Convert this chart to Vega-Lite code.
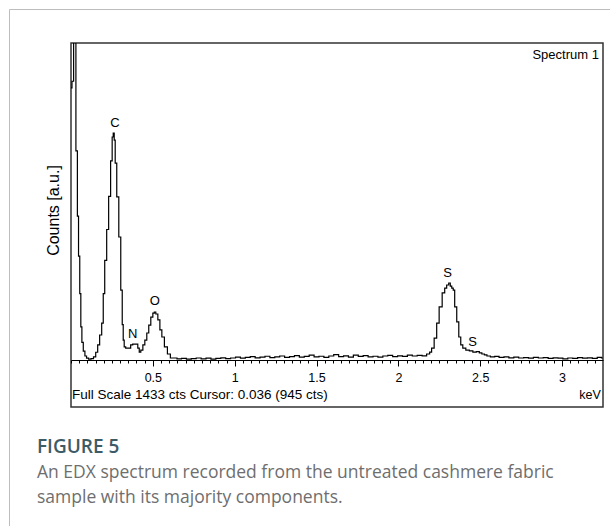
{
  "$schema": "https://vega.github.io/schema/vega-lite/v6.json",
  "width": 532,
  "height": 364,
  "autosize": {"type": "none"},
  "padding": {"left": 71, "top": 43, "right": 7, "bottom": 119},
  "background": "white",
  "config": {"view": {"stroke": "#333", "strokeWidth": 1.5}, "font": "Liberation Sans"},
  "title": {
    "text": "FIGURE 5",
    "subtitle": ["An EDX spectrum recorded from the untreated cashmere fabric", "sample with its majority components."],
    "orient": "bottom", "anchor": "start", "frame": "group", "dx": -34, "offset": -173,
    "font": "Open Sans", "fontSize": 19, "fontWeight": 600, "color": "#3d5b66",
    "subtitleFont": "Open Sans", "subtitleFontSize": 17.5, "subtitleColor": "#6e6e6e",
    "subtitleLineHeight": 25, "subtitlePadding": 7
  },
  "resolve": {"axis": {"x": "independent"}},
  "datasets": {
    "spectrum": [
      {"kev": 0.000, "cts": 1230}, {"kev": 0.012, "cts": 1260}, {"kev": 0.020, "cts": 1600}, {"kev": 0.024, "cts": 2000},
      {"kev": 0.029, "cts": 2000}, {"kev": 0.031, "cts": 945}, {"kev": 0.036, "cts": 945}, {"kev": 0.042, "cts": 650},
      {"kev": 0.050, "cts": 470}, {"kev": 0.057, "cts": 300}, {"kev": 0.063, "cts": 150}, {"kev": 0.070, "cts": 80},
      {"kev": 0.080, "cts": 40}, {"kev": 0.090, "cts": 18}, {"kev": 0.100, "cts": 8}, {"kev": 0.115, "cts": 4},
      {"kev": 0.130, "cts": 6}, {"kev": 0.145, "cts": 14}, {"kev": 0.157, "cts": 35}, {"kev": 0.169, "cts": 68},
      {"kev": 0.181, "cts": 113}, {"kev": 0.194, "cts": 167}, {"kev": 0.200, "cts": 300}, {"kev": 0.212, "cts": 450},
      {"kev": 0.224, "cts": 590}, {"kev": 0.236, "cts": 740}, {"kev": 0.248, "cts": 900}, {"kev": 0.255, "cts": 1008},
      {"kev": 0.261, "cts": 1026}, {"kev": 0.267, "cts": 994}, {"kev": 0.273, "cts": 890}, {"kev": 0.286, "cts": 737},
      {"kev": 0.298, "cts": 556}, {"kev": 0.310, "cts": 316}, {"kev": 0.316, "cts": 160}, {"kev": 0.322, "cts": 90},
      {"kev": 0.328, "cts": 59}, {"kev": 0.340, "cts": 54}, {"kev": 0.358, "cts": 54}, {"kev": 0.371, "cts": 68},
      {"kev": 0.383, "cts": 72}, {"kev": 0.402, "cts": 72}, {"kev": 0.414, "cts": 54}, {"kev": 0.420, "cts": 36},
      {"kev": 0.433, "cts": 45}, {"kev": 0.445, "cts": 68}, {"kev": 0.457, "cts": 90}, {"kev": 0.469, "cts": 122},
      {"kev": 0.481, "cts": 158}, {"kev": 0.494, "cts": 194}, {"kev": 0.506, "cts": 212}, {"kev": 0.512, "cts": 217},
      {"kev": 0.524, "cts": 208}, {"kev": 0.537, "cts": 181}, {"kev": 0.549, "cts": 136}, {"kev": 0.561, "cts": 104},
      {"kev": 0.580, "cts": 59}, {"kev": 0.598, "cts": 27}, {"kev": 0.616, "cts": 9}, {"kev": 0.635, "cts": 9},
      {"kev": 0.66, "cts": 5}, {"kev": 0.69, "cts": 7}, {"kev": 0.72, "cts": 4}, {"kev": 0.75, "cts": 6},
      {"kev": 0.78, "cts": 9}, {"kev": 0.81, "cts": 5}, {"kev": 0.84, "cts": 8}, {"kev": 0.87, "cts": 4},
      {"kev": 0.90, "cts": 7}, {"kev": 0.93, "cts": 10}, {"kev": 0.96, "cts": 6}, {"kev": 0.99, "cts": 9},
      {"kev": 1.02, "cts": 13}, {"kev": 1.05, "cts": 8}, {"kev": 1.08, "cts": 12}, {"kev": 1.11, "cts": 15},
      {"kev": 1.14, "cts": 10}, {"kev": 1.17, "cts": 13}, {"kev": 1.20, "cts": 17}, {"kev": 1.23, "cts": 11},
      {"kev": 1.26, "cts": 14}, {"kev": 1.29, "cts": 18}, {"kev": 1.32, "cts": 12}, {"kev": 1.35, "cts": 15},
      {"kev": 1.38, "cts": 20}, {"kev": 1.41, "cts": 13}, {"kev": 1.44, "cts": 16}, {"kev": 1.47, "cts": 22},
      {"kev": 1.50, "cts": 14}, {"kev": 1.53, "cts": 17}, {"kev": 1.56, "cts": 12}, {"kev": 1.59, "cts": 18},
      {"kev": 1.62, "cts": 24}, {"kev": 1.65, "cts": 15}, {"kev": 1.68, "cts": 19}, {"kev": 1.71, "cts": 13},
      {"kev": 1.74, "cts": 22}, {"kev": 1.77, "cts": 16}, {"kev": 1.80, "cts": 20}, {"kev": 1.83, "cts": 14},
      {"kev": 1.86, "cts": 17}, {"kev": 1.89, "cts": 13}, {"kev": 1.92, "cts": 18}, {"kev": 1.95, "cts": 21},
      {"kev": 1.98, "cts": 15}, {"kev": 2.01, "cts": 19}, {"kev": 2.04, "cts": 16}, {"kev": 2.07, "cts": 22},
      {"kev": 2.10, "cts": 18}, {"kev": 2.13, "cts": 21}, {"kev": 2.16, "cts": 19}, {"kev": 2.185, "cts": 27},
      {"kev": 2.197, "cts": 36}, {"kev": 2.209, "cts": 54}, {"kev": 2.228, "cts": 99}, {"kev": 2.240, "cts": 167},
      {"kev": 2.258, "cts": 240}, {"kev": 2.277, "cts": 303}, {"kev": 2.289, "cts": 325}, {"kev": 2.301, "cts": 339},
      {"kev": 2.314, "cts": 348}, {"kev": 2.320, "cts": 334}, {"kev": 2.332, "cts": 325}, {"kev": 2.338, "cts": 316},
      {"kev": 2.350, "cts": 240}, {"kev": 2.363, "cts": 172}, {"kev": 2.375, "cts": 104}, {"kev": 2.387, "cts": 68},
      {"kev": 2.400, "cts": 54}, {"kev": 2.424, "cts": 45}, {"kev": 2.443, "cts": 41}, {"kev": 2.467, "cts": 36},
      {"kev": 2.485, "cts": 38}, {"kev": 2.504, "cts": 32}, {"kev": 2.516, "cts": 27}, {"kev": 2.535, "cts": 23},
      {"kev": 2.547, "cts": 18}, {"kev": 2.577, "cts": 14}, {"kev": 2.60, "cts": 16}, {"kev": 2.63, "cts": 12},
      {"kev": 2.66, "cts": 14}, {"kev": 2.69, "cts": 10}, {"kev": 2.72, "cts": 13}, {"kev": 2.75, "cts": 9},
      {"kev": 2.78, "cts": 11}, {"kev": 2.81, "cts": 8}, {"kev": 2.84, "cts": 12}, {"kev": 2.87, "cts": 9},
      {"kev": 2.90, "cts": 11}, {"kev": 2.93, "cts": 7}, {"kev": 2.96, "cts": 10}, {"kev": 2.99, "cts": 8},
      {"kev": 3.02, "cts": 5}, {"kev": 3.05, "cts": 9}, {"kev": 3.08, "cts": 7}, {"kev": 3.11, "cts": 11},
      {"kev": 3.14, "cts": 8}, {"kev": 3.17, "cts": 10}, {"kev": 3.20, "cts": 7}, {"kev": 3.23, "cts": 12},
      {"kev": 3.25, "cts": 9}
    ],
    "peaks": [
      {"el": "C", "kev": 0.268, "cts": 1071},
      {"el": "N", "kev": 0.377, "cts": 117},
      {"el": "O", "kev": 0.512, "cts": 267},
      {"el": "S", "kev": 2.301, "cts": 393},
      {"el": "S", "kev": 2.454, "cts": 81}
    ]
  },
  "layer": [
    {
      "data": {"name": "spectrum"},
      "mark": {"type": "line", "strokeWidth": 1.2, "clip": true, "interpolate": "step"},
      "encoding": {
        "x": {
          "field": "kev", "type": "quantitative",
          "scale": {"domain": [0, 3.25], "nice": false, "zero": false},
          "axis": {
            "orient": "bottom",
            "values": [0.5, 1, 1.5, 2, 2.5, 3], "format": "~g",
            "title": null, "offset": -47, "grid": false,
            "domainColor": "black", "domainWidth": 1, "tickColor": "black", "tickWidth": 1, "tickSize": 6,
            "labelOverlap": false, "labelFlush": false, "labelPadding": 5,
            "labelFontSize": 12.5, "labelColor": "black", "labelFont": "Liberation Sans"
          }
        },
        "y": {
          "field": "cts", "type": "quantitative",
          "scale": {"domain": [-212.5, 1433], "nice": false, "zero": false},
          "axis": {
            "title": "Counts [a.u.]", "labels": false, "ticks": false, "domain": false, "grid": false,
            "titleFont": "Liberation Sans", "titleFontSize": 16, "titleFontWeight": "normal",
            "titleColor": "black", "titlePadding": 10, "titleY": 167
          }
        },
        "color": {
          "datum": "page", "type": "nominal",
          "scale": {"range": ["black"]},
          "legend": {
            "orient": "none", "legendX": -62, "legendY": -34, "padding": 300,
            "strokeColor": "#bdbdbd", "title": null, "labelExpr": "''",
            "symbolSize": 0, "symbolStrokeWidth": 0, "symbolOpacity": 0, "labelFontSize": 1
          }
        }
      }
    },
    {
      "data": {"name": "peaks"},
      "mark": {"type": "text", "fontSize": 13, "font": "Liberation Sans", "color": "black", "baseline": "middle"},
      "encoding": {
        "x": {
          "field": "kev", "type": "quantitative",
          "axis": {
            "orient": "bottom",
            "values": [0,0.05,0.1,0.15,0.2,0.25,0.3,0.35,0.4,0.45,0.5,0.55,0.6,0.65,0.7,0.75,0.8,0.85,0.9,0.95,1,1.05,1.1,1.15,1.2,1.25,1.3,1.35,1.4,1.45,1.5,1.55,1.6,1.65,1.7,1.75,1.8,1.85,1.9,1.95,2,2.05,2.1,2.15,2.2,2.25,2.3,2.35,2.4,2.45,2.5,2.55,2.6,2.65,2.7,2.75,2.8,2.85,2.9,2.95,3,3.05,3.1,3.15,3.2],
            "title": null, "offset": -47, "grid": false, "domain": false, "labels": false,
            "tickColor": "black", "tickWidth": 1, "tickSize": 3
          }
        },
        "y": {"field": "cts", "type": "quantitative"},
        "text": {"field": "el"}
      }
    },
    {
      "data": {"values": [{}]},
      "mark": {"type": "text", "fontSize": 13, "font": "Liberation Sans", "color": "black", "align": "right", "baseline": "middle"},
      "encoding": {"x": {"datum": 3.225, "axis": null}, "y": {"datum": 1379}, "text": {"value": "Spectrum 1"}}
    },
    {
      "data": {"values": [{}]},
      "mark": {"type": "text", "fontSize": 13.5, "font": "Liberation Sans", "color": "black", "align": "left", "baseline": "middle"},
      "encoding": {"x": {"datum": 0.006, "axis": null}, "y": {"datum": -158}, "text": {"value": "Full Scale 1433 cts Cursor: 0.036  (945 cts)"}}
    },
    {
      "data": {"values": [{}]},
      "mark": {"type": "text", "fontSize": 12.5, "font": "Liberation Sans", "color": "black", "align": "right", "baseline": "middle"},
      "encoding": {"x": {"datum": 3.237, "axis": null}, "y": {"datum": -158}, "text": {"value": "keV"}}
    }
  ]
}
